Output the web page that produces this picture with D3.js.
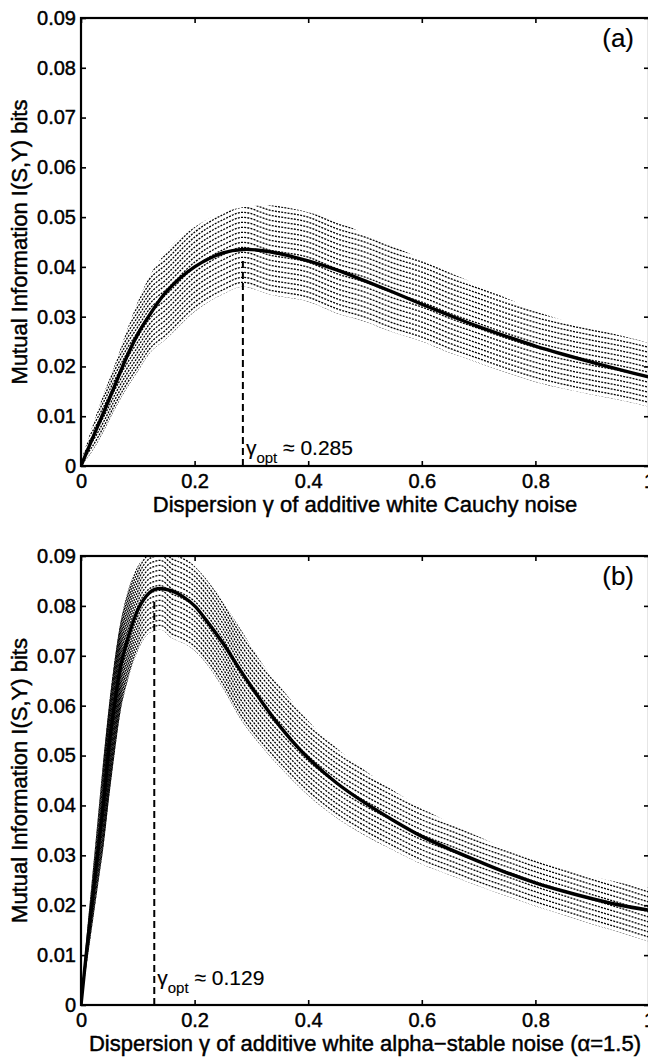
<!DOCTYPE html>
<html>
<head>
<meta charset="utf-8">
<script src="https://cdn.jsdelivr.net/npm/d3@7"></script>
<style>
  body { margin: 0; background: #fff; }
  text { font-family: "Liberation Sans", Arial, Helvetica, sans-serif; fill: #000; stroke: #000; stroke-width: 0.45px; }
  text.thin { stroke-width: 0.15px; }
</style>
</head>
<body>
<div id="chart"></div>
<script>
// ---- panel (a): Cauchy noise ----
var gammaA = [0, 0.02, 0.04, 0.06, 0.08, 0.10, 0.12, 0.15, 0.20, 0.25, 0.285, 0.33, 0.40, 0.45, 0.50,
              0.55, 0.60, 0.65, 0.70, 0.75, 0.80, 0.85, 0.90, 0.95, 1.00];
var meanA  = [0, 0.0055, 0.0108, 0.0163, 0.0218, 0.0265, 0.0302, 0.0350, 0.0400, 0.0428, 0.0435, 0.0431,
              0.0412, 0.0394, 0.0372, 0.0349, 0.0325, 0.0302, 0.0280, 0.0260, 0.0241, 0.0224, 0.0208, 0.0193, 0.0179];
var upperA = [0.001, 0.008, 0.0145, 0.0205, 0.027, 0.033, 0.038, 0.043, 0.048, 0.051, 0.052, 0.0524,
              0.051, 0.0494, 0.0465, 0.0442, 0.0415, 0.0388, 0.0363, 0.0337, 0.0312, 0.0292, 0.0277, 0.0262, 0.0247];
var lowerA = [0, 0.003, 0.007, 0.0115, 0.0155, 0.019, 0.0225, 0.0255, 0.031, 0.0345, 0.036, 0.0345,
              0.033, 0.0307, 0.029, 0.0268, 0.025, 0.0227, 0.0207, 0.0187, 0.0169, 0.0155, 0.0143, 0.0132, 0.0119];

// ---- panel (b): alpha-stable noise ----
var gammaB = [0, 0.01, 0.02, 0.03, 0.04, 0.05, 0.06, 0.07, 0.08, 0.09, 0.10, 0.11, 0.12, 0.13, 0.14, 0.16,
              0.18, 0.20, 0.22, 0.25, 0.28, 0.32, 0.36, 0.40, 0.45, 0.50, 0.55, 0.60, 0.65, 0.70, 0.75,
              0.80, 0.85, 0.90, 0.95, 1.00];
var meanB  = [0, 0.011, 0.021, 0.031, 0.041, 0.0525, 0.061, 0.068, 0.0725, 0.0762, 0.0792, 0.0812, 0.0826,
              0.0833, 0.0835, 0.0830, 0.0818, 0.0800, 0.0772, 0.0725, 0.0672, 0.0605, 0.0545, 0.0495, 0.0445,
              0.0405, 0.0370, 0.0338, 0.0312, 0.0288, 0.0265, 0.0245, 0.0228, 0.0213, 0.0200, 0.0190];
var upperB = [0.001, 0.014, 0.026, 0.038, 0.050, 0.061, 0.070, 0.077, 0.082, 0.0855, 0.088, 0.0895, 0.0905,
              0.091, 0.0915, 0.0915, 0.090, 0.088, 0.0855, 0.0808, 0.0755, 0.0683, 0.0625, 0.057, 0.0515,
              0.047, 0.043, 0.0395, 0.0365, 0.0338, 0.0313, 0.0292, 0.0273, 0.0258, 0.0245, 0.0235];
var lowerB = [0, 0.008, 0.016, 0.024, 0.032, 0.042, 0.051, 0.059, 0.064, 0.068, 0.071, 0.0732, 0.0745,
              0.075, 0.0752, 0.0735, 0.0725, 0.071, 0.0685, 0.0635, 0.0575, 0.0515, 0.0465, 0.042, 0.0375,
              0.034, 0.031, 0.0282, 0.026, 0.0238, 0.0218, 0.0198, 0.0180, 0.0162, 0.0145, 0.0127];

// ---- axes / annotations ----
var xTicks = [0, 0.2, 0.4, 0.6, 0.8, 1];
var xTickLabels = ["0", "0.2", "0.4", "0.6", "0.8", "1"];
var yTicks = [0, 0.01, 0.02, 0.03, 0.04, 0.05, 0.06, 0.07, 0.08, 0.09];
var yTickLabels = ["0", "0.01", "0.02", "0.03", "0.04", "0.05", "0.06", "0.07", "0.08", "0.09"];
var optGammaA = 0.285, optTopA = 0.0415, optTextA = "0.285";
var optGammaB = 0.129, optTopB = 0.0815, optTextB = "0.129";

var W = 648, H = 1057;
var left = 81, right = 649;

var svg = d3.select("#chart").append("svg")
            .attr("width", W)
            .attr("height", H);

function drawPanel(id, top, bottom, gx, mean, upper, lower, opt, label) {
  var xScale = d3.scaleLinear().domain([0, 1]).range([left, right]);
  var yScale = d3.scaleLinear().domain([0, 0.09]).range([bottom, top]);
  var g = svg.append("g");

  // plot clip
  g.append("clipPath").attr("id", "plot" + id)
   .append("rect").attr("x", left).attr("y", top)
   .attr("width", right - left).attr("height", bottom - top);

  // band clip = area between lower and upper
  var band = d3.area()
               .x(function(d, i) { return xScale(gx[i]); })
               .y0(function(d, i) { return yScale(lower[i]); })
               .y1(function(d, i) { return yScale(upper[i]); })
               .curve(d3.curveMonotoneX);
  g.append("clipPath").attr("id", "band" + id)
   .append("path").attr("d", band(gx));

  var lowLine = d3.line()
                  .x(function(d, i) { return xScale(gx[i]); })
                  .y(function(d, i) { return yScale(lower[i]); })
                  .curve(d3.curveMonotoneX);

  // dotted error-bar rows, stacked up from the lower edge
  var spacing = 5;
  var maxH = d3.max(gx, function(d, i) { return yScale(lower[i]) - yScale(upper[i]); });
  var rows = d3.range(0, Math.ceil(maxH / spacing) + 1);
  var bandG = g.append("g").attr("clip-path", "url(#plot" + id + ")")
               .append("g").attr("clip-path", "url(#band" + id + ")");
  bandG.selectAll("path")
       .data(rows)
       .enter()
       .append("path")
       .attr("d", lowLine(gx))
       .attr("transform", function(k) { return "translate(0," + (-k * spacing + 0.5) + ")"; })
       .attr("fill", "none")
       .attr("stroke", "#000")
       .attr("stroke-width", 1.3)
       .attr("stroke-dasharray", "2,1.2");

  // mean curve
  var meanLine = d3.line()
                   .x(function(d, i) { return xScale(gx[i]); })
                   .y(function(d, i) { return yScale(mean[i]); })
                   .curve(d3.curveCatmullRom.alpha(0.5));
  g.append("g").attr("clip-path", "url(#plot" + id + ")")
   .append("path")
   .attr("d", meanLine(gx))
   .attr("fill", "none")
   .attr("stroke", "#000")
   .attr("stroke-width", 3.4)
   .attr("stroke-linejoin", "round");

  // optimum marker
  g.append("line")
   .attr("x1", xScale(opt.gamma)).attr("x2", xScale(opt.gamma))
   .attr("y1", yScale(0)).attr("y2", yScale(opt.top))
   .attr("stroke", "#000").attr("stroke-width", 2)
   .attr("stroke-dasharray", "7,4");

  var t = g.append("text")
           .attr("class", "thin")
           .attr("x", xScale(opt.gamma) + 3)
           .attr("y", yScale(opt.textY))
           .style("font-size", "21px");
  t.append("tspan").text("γ");
  t.append("tspan").attr("dy", 8).style("font-size", "15px").text("opt");
  t.append("tspan").attr("dy", -8).text(" ≈ " + opt.text);

  // box and ticks
  g.append("rect")
   .attr("x", left).attr("y", top)
   .attr("width", right - left).attr("height", bottom - top)
   .attr("fill", "none").attr("stroke", "#000").attr("stroke-width", 2.2);

  var xAxis = d3.axisBottom(xScale).tickValues(xTicks)
                .tickFormat(function(d, i) { return xTickLabels[i]; })
                .tickSizeInner(-5).tickSizeOuter(0).tickPadding(8);
  var yAxis = d3.axisLeft(yScale).tickValues(yTicks)
                .tickFormat(function(d, i) { return yTickLabels[i]; })
                .tickSizeInner(-5).tickSizeOuter(0).tickPadding(5);
  var xTop = d3.axisTop(xScale).tickValues(xTicks).tickFormat("").tickSizeInner(-5).tickSizeOuter(0);
  var yRight = d3.axisRight(yScale).tickValues(yTicks).tickFormat("").tickSizeInner(-5).tickSizeOuter(0);

  var axes = [
    g.append("g").attr("transform", "translate(0," + bottom + ")").call(xAxis),
    g.append("g").attr("transform", "translate(" + left + ",0)").call(yAxis),
    g.append("g").attr("transform", "translate(0," + top + ")").call(xTop),
    g.append("g").attr("transform", "translate(" + right + ",0)").call(yRight)
  ];
  axes.forEach(function(a) {
    a.select(".domain").remove();
    a.selectAll("line").attr("stroke", "#000").attr("stroke-width", 1.6);
    a.selectAll("text").style("font-size", "20px").attr("fill", "#000")
     .style("font-family", "'Liberation Sans', Arial, sans-serif");
  });

  // labels
  g.append("text")
   .attr("x", (left + right) / 2).attr("y", bottom + 46)
   .attr("text-anchor", "middle")
   .style("font-size", "22px")
   .text(label);

  g.append("text")
   .attr("transform", "translate(26.5," + (top + bottom) / 2 + ") rotate(-90)")
   .attr("text-anchor", "middle")
   .style("font-size", "22px")
   .text("Mutual Information I(S,Y) bits");

  g.append("text")
   .attr("class", "thin")
   .attr("x", 634).attr("y", top + 29)
   .attr("text-anchor", "end")
   .style("font-size", "26px")
   .text("(" + id + ")");
}

drawPanel("a", 18, 466, gammaA, meanA, upperA, lowerA,
          { gamma: optGammaA, top: optTopA, text: optTextA, textY: 0.0022 },
          "Dispersion γ of additive white Cauchy noise");
drawPanel("b", 556, 1005, gammaB, meanB, upperB, lowerB,
          { gamma: optGammaB, top: optTopB, text: optTextB, textY: 0.004 },
          "Dispersion γ of additive white alpha−stable noise (α=1.5)");
</script>
</body>
</html>
